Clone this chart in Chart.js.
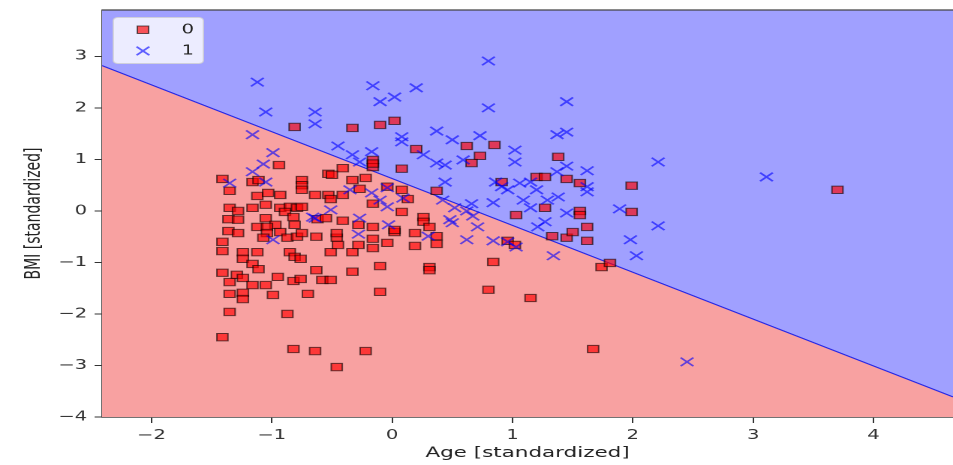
<!DOCTYPE html>
<html>
<head>
<meta charset="utf-8">
<script src="https://cdn.jsdelivr.net/npm/chart.js@4.4.1/dist/chart.umd.min.js"></script>
<style>
  html, body { margin: 0; padding: 0; background: #fff; }
</style>
</head>
<body>
<!-- the reference is stretched sideways, so the canvas is drawn narrow and scaled up -->
<canvas id="chart" width="635" height="465" style="width:953px;height:465px"></canvas>
<script>
// class 0 (red squares)
const class0X = [-0.81, -0.94, -1.41, -1.35, -1.16, -1.11, -0.75, -0.75, -0.75, -1.12,
  -1.03, -0.93, -0.64, -0.53, -0.53, -1.35, -1.28, -1.16, -1.05, -0.93,
  -0.85, -0.79, -0.89, -1.36, -1.28, -1.05, -0.97, -0.82, -0.81, -1.12,
  -1.04, -1.04, -0.93, -1.07, -0.87, -0.79, -1.36, -1.28, -1.41, -1.41,
  -1.24, -1.12, -1.24, -1.16, -1.11, -0.85, -0.81, -0.76, -0.63, -0.62,
  -0.55, -0.51, -1.41, -1.29, -1.24, -1.35, -1.16, -1.05, -0.95, -0.82,
  -0.76, -0.63, -0.58, -0.51, -1.35, -1.24, -1.24, -0.99, -0.70, -1.35,
  -0.87, -1.41, -0.82, -0.64, -0.22, -0.46, -0.33, -0.10, 0.02, 0.20,
  0.08, -0.16, -0.16, -0.41, -0.33, -0.22, -0.50, -0.27, -0.04, 0.08,
  0.13, -0.16, -0.41, 0.37, -0.46, -0.45, -0.33, -0.28, -0.16, -0.16,
  -0.04, 0.02, 0.19, 0.19, 0.37, 0.37, -0.10, -0.33, 0.31, 0.31,
  0.84, 0.80, 1.15, 0.96, 1.33, 1.45, 1.50, 1.62, 1.74, 1.81,
  1.67, -0.10, 1.99, 1.99, 3.70, -0.41, -0.28, -0.16, 0.02, 0.08,
  0.26, 0.26, 0.31, 0.62, 0.85, 0.73, 0.66, 0.91, 1.20, 1.27,
  1.38, 1.45, 1.56, 1.27, 1.56, 1.56, 1.03, 1.62, -0.16, 1.02,
  -0.51, -0.75, -0.75, -0.46];
const class0Y = [1.63, 0.89, 0.62, 0.39, 0.56, 0.60, 0.60, 0.50, 0.41, 0.29,
  0.35, 0.31, 0.31, 0.72, 0.31, 0.06, 0.00, 0.06, 0.12, 0.06,
  0.08, 0.06, -0.02, -0.16, -0.17, -0.14, -0.27, -0.12, -0.27, -0.31,
  -0.31, -0.43, -0.41, -0.52, -0.52, -0.50, -0.39, -0.43, -0.60, -0.78,
  -0.80, -0.80, -0.93, -1.03, -1.13, -0.80, -0.89, -0.93, -0.50, -0.16,
  -0.14, -0.80, -1.20, -1.24, -1.30, -1.38, -1.44, -1.44, -1.28, -1.36,
  -1.32, -1.15, -1.34, -1.34, -1.61, -1.59, -1.71, -1.63, -1.61, -1.96,
  -2.00, -2.45, -2.68, -2.72, -2.72, -3.03, 1.61, 1.67, 1.75, 1.20,
  0.82, 0.99, 0.85, 0.83, 0.60, 0.64, 0.70, 0.43, 0.47, 0.41,
  0.23, 0.14, 0.31, 0.39, -0.52, -0.66, -0.80, -0.66, -0.54, -0.72,
  -0.62, -0.41, -0.43, -0.68, -0.49, -0.64, -1.07, -1.18, -1.09, -1.15,
  -0.99, -1.53, -1.69, -0.58, -0.49, -0.52, -0.41, -0.58, -1.09, -1.01,
  -2.68, -1.57, 0.49, -0.02, 0.41, -0.19, -0.27, -0.31, -0.37, -0.02,
  -0.12, -0.21, -0.31, 1.26, 1.28, 1.07, 0.93, 0.56, 0.66, 0.66,
  1.05, 0.62, 0.54, 0.06, 0.00, -0.08, -0.08, -0.31, 0.92, -0.66,
  0.23, 0.08, -0.43, -0.43];

// class 1 (blue crosses)
const class1X = [-1.12, -1.05, -1.16, -0.99, -1.07, -1.16, -1.35, -1.05, -0.64, -0.64,
  -0.66, -0.99, -0.16, -0.10, 0.02, 0.20, 0.80, 0.80, 1.45, 0.37,
  0.50, 0.73, 0.08, 0.08, -0.45, -0.33, -0.17, -0.27, 0.26, 0.37,
  0.44, 0.59, 1.02, 1.02, 1.37, 1.45, 1.45, 1.37, 1.62, 1.62,
  1.62, 0.86, 0.91, 0.96, 1.06, 1.15, 1.20, 1.09, 1.15, 1.29,
  1.38, 0.84, 0.66, 0.44, 0.42, 0.52, 0.62, 0.67, 0.48, 1.45,
  1.27, 1.21, 1.89, -0.04, -0.35, -0.10, 0.09, -0.17, -0.04, -0.51,
  -0.64, -0.27, 0.50, 0.71, 2.21, 3.11, 2.21, 1.98, 2.03, 2.45,
  0.62, 0.84, 0.96, 1.03, 1.34, -0.28, 0.30, -0.03];
const class1Y = [2.50, 1.92, 1.48, 1.13, 0.91, 0.76, 0.54, 0.56, 1.92, 1.69,
  -0.12, -0.56, 2.43, 2.12, 2.21, 2.39, 2.91, 2.00, 2.12, 1.55,
  1.38, 1.46, 1.44, 1.34, 1.26, 1.09, 1.15, 0.95, 1.09, 0.93,
  0.89, 0.99, 1.18, 0.95, 1.48, 1.53, 0.87, 0.76, 0.78, 0.37,
  0.47, 0.56, 0.47, 0.41, 0.54, 0.56, 0.41, 0.21, 0.06, 0.21,
  0.27, 0.16, 0.14, 0.56, 0.21, 0.06, 0.00, -0.10, -0.17, -0.04,
  -0.21, -0.31, 0.04, 0.45, 0.41, 0.21, 0.25, 0.35, 0.08, 0.02,
  -0.14, -0.14, -0.23, -0.31, 0.95, 0.66, -0.29, -0.56, -0.87, -2.93,
  -0.56, -0.58, -0.60, -0.70, -0.87, -0.45, -0.49, -0.27];

// decision boundary, read at the left and right edges of the plot
const boundaryX = [-2.41, 4.66];
const boundaryY = [2.82, -3.61];

const classLabels = ["0", "1"];
const xTitle = "Age [standardized]";
const yTitle = "BMI [standardized]";

const toPoints = (xs, ys) => xs.map((x, i) => ({ x: x, y: ys[i] }));
const minusSign = (v) => String(v).replace("-", "\u2212");

const squareFill = "rgba(255, 0, 0, 0.65)";
const squareEdge = "rgba(0, 0, 0, 0.6)";
const crossColor = "rgba(0, 0, 255, 0.6)";
const textColor = "#222";

// legend box in the upper left corner, drawn by hand
const legendPlugin = {
  id: "cornerLegend",
  afterDraw(chart) {
    const ctx = chart.ctx;
    const area = chart.chartArea;
    ctx.save();
    // top spine
    ctx.strokeStyle = "#444";
    ctx.lineWidth = 1.2;
    ctx.beginPath();
    ctx.moveTo(area.left, area.top);
    ctx.lineTo(area.right, area.top);
    ctx.stroke();

    ctx.fillStyle = "rgba(255, 255, 255, 0.8)";
    ctx.strokeStyle = "rgba(210, 210, 210, 0.8)";
    ctx.lineWidth = 1;
    ctx.beginPath();
    ctx.roundRect(75.5, 17.5, 60, 46, 3);
    ctx.fill();
    ctx.stroke();

    ctx.fillStyle = squareFill;
    ctx.strokeStyle = squareEdge;
    ctx.fillRect(91.5, 26, 7.5, 7.5);
    ctx.strokeRect(91.5, 26, 7.5, 7.5);

    ctx.strokeStyle = crossColor;
    ctx.lineWidth = 1.5;
    ctx.beginPath();
    ctx.moveTo(91, 46.7); ctx.lineTo(99.5, 55.2);
    ctx.moveTo(99.5, 46.7); ctx.lineTo(91, 55.2);
    ctx.stroke();

    ctx.fillStyle = textColor;
    ctx.font = "13px 'DejaVu Sans'";
    ctx.textBaseline = "middle";
    ctx.textAlign = "left";
    ctx.fillText(classLabels[0], 121, 30);
    ctx.fillText(classLabels[1], 121, 51);
    ctx.restore();
  },
};

const ctx = document.getElementById("chart").getContext("2d");
const chart = new Chart(ctx, {
  type: "scatter",
  data: {
    datasets: [
      {
        label: classLabels[1],
        data: toPoints(class1X, class1Y),
        pointStyle: "crossRot",
        pointRadius: 6,
        borderColor: crossColor,
        pointBorderWidth: 1.5,
        order: 0,
      },
      {
        label: classLabels[0],
        data: toPoints(class0X, class0Y),
        pointStyle: "rect",
        pointRadius: 5.2,
        backgroundColor: squareFill,
        borderColor: squareEdge,
        pointBorderWidth: 1,
        order: 1,
      },
      {
        type: "line",
        label: "region 0",
        data: toPoints(boundaryX, boundaryY),
        pointRadius: 0,
        borderColor: "rgba(40, 40, 230, 1)",
        borderWidth: 1,
        backgroundColor: "rgb(248, 161, 161)",
        fill: "start",
        order: 2,
      },
      {
        type: "line",
        label: "region 1",
        data: toPoints(boundaryX, boundaryY),
        pointRadius: 0,
        borderColor: "rgba(40, 40, 230, 1)",
        borderWidth: 1,
        backgroundColor: "rgb(160, 160, 255)",
        fill: "end",
        order: 3,
      },
    ],
  },
  options: {
    responsive: false,
    devicePixelRatio: 2,
    animation: false,
    events: [],
    layout: { autoPadding: false, padding: { top: 10, right: 0, left: 0, bottom: 0 } },
    scales: {
      x: {
        type: "linear",
        min: -2.41,
        max: 4.66,
        afterFit: (scale) => {
          scale.height = 48;
          scale.paddingLeft = 0;
          scale.paddingRight = 0;
        },
        border: { display: true, color: "#444", width: 1.2 },
        grid: { drawOnChartArea: false, drawTicks: true, tickLength: 6, color: "#333" },
        ticks: {
          stepSize: 1,
          includeBounds: false,
          padding: 5,
          color: "#333",
          font: { family: "DejaVu Sans", size: 13 },
          callback: minusSign,
        },
        title: {
          display: true,
          text: xTitle,
          color: textColor,
          font: { family: "DejaVu Sans", size: 14.3 },
          padding: { top: 0, bottom: 3 },
        },
      },
      y: {
        type: "linear",
        min: -4,
        max: 3.9,
        afterFit: (scale) => {
          scale.width = 68;
          scale.paddingTop = 0;
          scale.paddingBottom = 0;
        },
        border: { display: true, color: "#444", width: 1.2 },
        grid: { drawOnChartArea: false, drawTicks: true, tickLength: 5, color: "#333" },
        ticks: {
          stepSize: 1,
          includeBounds: false,
          padding: 5,
          color: "#333",
          font: { family: "DejaVu Sans", size: 13 },
          callback: minusSign,
        },
        title: {
          display: true,
          text: yTitle,
          color: textColor,
          font: { family: "DejaVu Sans", size: 14 },
          padding: { top: 14.5, bottom: 0 },
        },
      },
    },
    plugins: {
      legend: { display: false },
      tooltip: { enabled: false },
    },
  },
  plugins: [legendPlugin],
});
</script>
</body>
</html>
